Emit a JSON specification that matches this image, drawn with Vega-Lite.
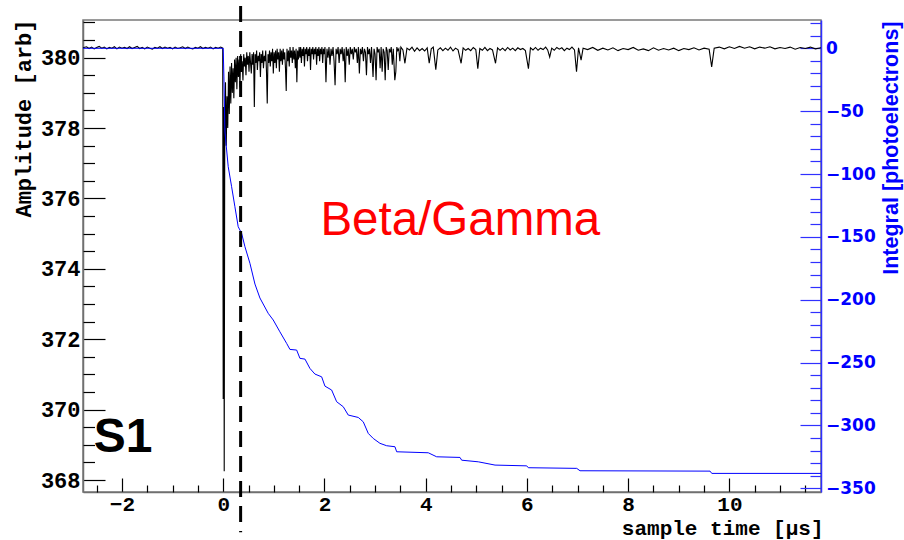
{
  "$schema": "https://vega.github.io/schema/vega-lite/v6.json",
  "width": 738,
  "height": 472,
  "autosize": "none",
  "padding": {"left": 83, "top": 20, "right": 83, "bottom": 48},
  "background": "white",
  "config": {
    "view": {"stroke": "#7a7a7a", "strokeWidth": 1.5},
    "axis": {"grid": false, "labelOverlap": false, "labelFlush": false, "labelBound": false}
  },
  "datasets": {
    "wave": [
      {"t": -2.77, "a": 380.28}, {"t": -2.7, "a": 380.31}, {"t": -2.65, "a": 380.26}, {"t": -2.6, "a": 380.3}, {"t": -2.55, "a": 380.25}, {"t": -2.5, "a": 380.29}, {"t": -2.45, "a": 380.32}, {"t": -2.4, "a": 380.27}, {"t": -2.35, "a": 380.3}, {"t": -2.3, "a": 380.25}, {"t": -2.25, "a": 380.29}, {"t": -2.2, "a": 380.27}, {"t": -2.15, "a": 380.31}, {"t": -2.1, "a": 380.25}, {"t": -2.05, "a": 380.3}, {"t": -2.0, "a": 380.27}, {"t": -1.95, "a": 380.29}, {"t": -1.9, "a": 380.26}, {"t": -1.85, "a": 380.31}, {"t": -1.8, "a": 380.26}, {"t": -1.75, "a": 380.29}, {"t": -1.7, "a": 380.32}, {"t": -1.65, "a": 380.26}, {"t": -1.6, "a": 380.29}, {"t": -1.55, "a": 380.25}, {"t": -1.5, "a": 380.3}, {"t": -1.45, "a": 380.27}, {"t": -1.4, "a": 380.24}, {"t": -1.35, "a": 380.29}, {"t": -1.3, "a": 380.27}, {"t": -1.25, "a": 380.31}, {"t": -1.2, "a": 380.26}, {"t": -1.15, "a": 380.3}, {"t": -1.1, "a": 380.27}, {"t": -1.05, "a": 380.29}, {"t": -1.0, "a": 380.25}, {"t": -0.95, "a": 380.3}, {"t": -0.9, "a": 380.26}, {"t": -0.85, "a": 380.28}, {"t": -0.8, "a": 380.31}, {"t": -0.75, "a": 380.26}, {"t": -0.7, "a": 380.3}, {"t": -0.65, "a": 380.27}, {"t": -0.6, "a": 380.25}, {"t": -0.55, "a": 380.29}, {"t": -0.5, "a": 380.27}, {"t": -0.45, "a": 380.31}, {"t": -0.4, "a": 380.26}, {"t": -0.35, "a": 380.29}, {"t": -0.3, "a": 380.27}, {"t": -0.25, "a": 380.3}, {"t": -0.2, "a": 380.25}, {"t": -0.15, "a": 380.29}, {"t": -0.1, "a": 380.27}, {"t": -0.05, "a": 380.3}, {"t": -0.01, "a": 380.27},
      {"t": 0.0, "a": 370.3}, {"t": 0.01, "a": 378.6}, {"t": 0.02, "a": 368.25}, {"t": 0.03, "a": 377.6}, {"t": 0.045, "a": 379.3}, {"t": 0.06, "a": 377.5}, {"t": 0.075, "a": 378.9}, {"t": 0.09, "a": 378.0}, {"t": 0.105, "a": 379.6}, {"t": 0.12, "a": 378.4}, {"t": 0.135, "a": 379.75}, {"t": 0.15, "a": 378.7}, {"t": 0.165, "a": 379.85}, {"t": 0.18, "a": 379.0}, {"t": 0.195, "a": 379.7}, {"t": 0.21, "a": 378.85}, {"t": 0.225, "a": 379.95}, {"t": 0.24, "a": 379.3}, {"t": 0.255, "a": 380.0}, {"t": 0.27, "a": 379.1}, {"t": 0.285, "a": 380.05}, {"t": 0.3, "a": 379.45}, {"t": 0.315, "a": 379.95}, {"t": 0.33, "a": 379.15}, {"t": 0.345, "a": 380.1}, {"t": 0.36, "a": 379.6}, {"t": 0.375, "a": 379.9}, {"t": 0.39, "a": 379.35}, {"t": 0.405, "a": 380.1}, {"t": 0.42, "a": 379.75}, {"t": 0.435, "a": 380.0}, {"t": 0.45, "a": 379.5}, {"t": 0.465, "a": 380.15}, {"t": 0.48, "a": 379.8}, {"t": 0.495, "a": 380.05}, {"t": 0.51, "a": 379.6}, {"t": 0.525, "a": 380.15}, {"t": 0.54, "a": 379.85}, {"t": 0.555, "a": 379.55}, {"t": 0.57, "a": 380.1}, {"t": 0.585, "a": 379.8}, {"t": 0.6, "a": 380.15}, {"t": 0.615, "a": 378.6}, {"t": 0.63, "a": 380.1}, {"t": 0.645, "a": 379.85}, {"t": 0.66, "a": 380.2}, {"t": 0.675, "a": 379.65}, {"t": 0.69, "a": 380.05}, {"t": 0.705, "a": 379.9}, {"t": 0.72, "a": 380.15}, {"t": 0.735, "a": 379.45}, {"t": 0.75, "a": 380.1}, {"t": 0.765, "a": 379.85}, {"t": 0.78, "a": 380.2}, {"t": 0.795, "a": 379.7}, {"t": 0.81, "a": 380.05}, {"t": 0.825, "a": 379.9}, {"t": 0.84, "a": 380.2}, {"t": 0.855, "a": 379.6}, {"t": 0.87, "a": 378.7}, {"t": 0.885, "a": 380.1}, {"t": 0.9, "a": 379.85}, {"t": 0.915, "a": 380.2}, {"t": 0.93, "a": 379.75}, {"t": 0.945, "a": 380.15}, {"t": 0.96, "a": 379.9}, {"t": 0.975, "a": 380.25}, {"t": 0.99, "a": 379.55}, {"t": 1.005, "a": 380.15}, {"t": 1.02, "a": 379.85}, {"t": 1.035, "a": 380.2}, {"t": 1.05, "a": 379.7}, {"t": 1.065, "a": 380.25}, {"t": 1.08, "a": 379.95}, {"t": 1.095, "a": 380.15}, {"t": 1.11, "a": 379.6}, {"t": 1.125, "a": 380.25}, {"t": 1.14, "a": 379.9}, {"t": 1.155, "a": 380.2}, {"t": 1.17, "a": 379.8}, {"t": 1.185, "a": 380.25}, {"t": 1.2, "a": 379.95}, {"t": 1.215, "a": 380.15}, {"t": 1.23, "a": 379.7}, {"t": 1.245, "a": 379.05}, {"t": 1.26, "a": 380.25}, {"t": 1.275, "a": 379.9}, {"t": 1.29, "a": 380.2}, {"t": 1.305, "a": 379.75}, {"t": 1.32, "a": 380.3}, {"t": 1.335, "a": 380.0}, {"t": 1.35, "a": 380.2}, {"t": 1.365, "a": 379.85}, {"t": 1.38, "a": 380.3}, {"t": 1.395, "a": 379.95}, {"t": 1.41, "a": 380.2}, {"t": 1.425, "a": 379.7}, {"t": 1.44, "a": 380.25}, {"t": 1.455, "a": 379.3}, {"t": 1.47, "a": 380.2}, {"t": 1.485, "a": 379.95}, {"t": 1.5, "a": 380.3},
      {"t": 1.515, "a": 380.0}, {"t": 1.53, "a": 380.3}, {"t": 1.545, "a": 379.85}, {"t": 1.56, "a": 380.25}, {"t": 1.575, "a": 380.05}, {"t": 1.59, "a": 380.3}, {"t": 1.605, "a": 379.75}, {"t": 1.62, "a": 380.25}, {"t": 1.635, "a": 380.1}, {"t": 1.65, "a": 380.3}, {"t": 1.665, "a": 379.9}, {"t": 1.68, "a": 380.25}, {"t": 1.695, "a": 380.05}, {"t": 1.71, "a": 380.3}, {"t": 1.725, "a": 379.65}, {"t": 1.74, "a": 380.25}, {"t": 1.755, "a": 380.1}, {"t": 1.77, "a": 380.3}, {"t": 1.785, "a": 379.95}, {"t": 1.8, "a": 380.25}, {"t": 1.815, "a": 380.1}, {"t": 1.83, "a": 380.3}, {"t": 1.845, "a": 379.8}, {"t": 1.86, "a": 380.25}, {"t": 1.875, "a": 380.05}, {"t": 1.89, "a": 380.3}, {"t": 1.905, "a": 379.9}, {"t": 1.92, "a": 380.25}, {"t": 1.935, "a": 380.1}, {"t": 1.95, "a": 380.3}, {"t": 1.965, "a": 379.85}, {"t": 1.98, "a": 380.25}, {"t": 1.995, "a": 380.1}, {"t": 2.01, "a": 380.3}, {"t": 2.03, "a": 379.3}, {"t": 2.05, "a": 380.25}, {"t": 2.07, "a": 380.0}, {"t": 2.09, "a": 380.3}, {"t": 2.11, "a": 379.8}, {"t": 2.13, "a": 380.25}, {"t": 2.15, "a": 380.05}, {"t": 2.17, "a": 380.3}, {"t": 2.19, "a": 379.9}, {"t": 2.21, "a": 379.22}, {"t": 2.23, "a": 380.25}, {"t": 2.25, "a": 380.1}, {"t": 2.27, "a": 380.3}, {"t": 2.29, "a": 379.85}, {"t": 2.31, "a": 380.25}, {"t": 2.33, "a": 380.1}, {"t": 2.35, "a": 380.3}, {"t": 2.37, "a": 379.9}, {"t": 2.39, "a": 380.25}, {"t": 2.41, "a": 379.3}, {"t": 2.43, "a": 380.3}, {"t": 2.45, "a": 380.05}, {"t": 2.47, "a": 380.25}, {"t": 2.49, "a": 379.8}, {"t": 2.51, "a": 380.3}, {"t": 2.53, "a": 380.1}, {"t": 2.55, "a": 380.25}, {"t": 2.57, "a": 379.95}, {"t": 2.59, "a": 380.3}, {"t": 2.61, "a": 380.15}, {"t": 2.63, "a": 380.25}, {"t": 2.65, "a": 379.85}, {"t": 2.67, "a": 380.3}, {"t": 2.69, "a": 379.55}, {"t": 2.71, "a": 380.25}, {"t": 2.73, "a": 380.1}, {"t": 2.75, "a": 380.3}, {"t": 2.77, "a": 379.9}, {"t": 2.79, "a": 380.25}, {"t": 2.81, "a": 380.15}, {"t": 2.83, "a": 379.5}, {"t": 2.85, "a": 380.3}, {"t": 2.87, "a": 380.1}, {"t": 2.89, "a": 380.25}, {"t": 2.91, "a": 379.85}, {"t": 2.93, "a": 380.3}, {"t": 2.96, "a": 379.45}, {"t": 2.98, "a": 380.25}, {"t": 3.0, "a": 380.1}, {"t": 3.02, "a": 379.36}, {"t": 3.04, "a": 380.3}, {"t": 3.06, "a": 380.15}, {"t": 3.08, "a": 380.25}, {"t": 3.1, "a": 379.7}, {"t": 3.12, "a": 380.3}, {"t": 3.14, "a": 379.6}, {"t": 3.16, "a": 380.25}, {"t": 3.18, "a": 380.15}, {"t": 3.2, "a": 379.36}, {"t": 3.22, "a": 380.3}, {"t": 3.24, "a": 380.2}, {"t": 3.26, "a": 379.65}, {"t": 3.28, "a": 380.25}, {"t": 3.3, "a": 380.15}, {"t": 3.32, "a": 380.3}, {"t": 3.34, "a": 379.8}, {"t": 3.36, "a": 380.25}, {"t": 3.39, "a": 379.36}, {"t": 3.41, "a": 379.6}, {"t": 3.43, "a": 380.3}, {"t": 3.45, "a": 380.2}, {"t": 3.47, "a": 380.25}, {"t": 3.49, "a": 379.9}, {"t": 3.51, "a": 380.3},
      {"t": 3.55, "a": 380.22}, {"t": 3.59, "a": 379.84}, {"t": 3.63, "a": 380.27}, {"t": 3.68, "a": 380.22}, {"t": 3.73, "a": 380.3}, {"t": 3.78, "a": 380.18}, {"t": 3.83, "a": 380.28}, {"t": 3.88, "a": 380.2}, {"t": 3.93, "a": 380.26}, {"t": 3.98, "a": 380.19}, {"t": 4.03, "a": 380.28}, {"t": 4.07, "a": 379.84}, {"t": 4.11, "a": 380.25}, {"t": 4.15, "a": 380.3}, {"t": 4.2, "a": 379.66}, {"t": 4.24, "a": 380.22}, {"t": 4.29, "a": 380.28}, {"t": 4.34, "a": 380.2}, {"t": 4.39, "a": 380.27}, {"t": 4.44, "a": 380.21}, {"t": 4.49, "a": 380.3}, {"t": 4.54, "a": 380.19}, {"t": 4.59, "a": 380.27}, {"t": 4.64, "a": 380.22}, {"t": 4.7, "a": 379.84}, {"t": 4.74, "a": 380.28}, {"t": 4.79, "a": 380.21}, {"t": 4.84, "a": 380.26}, {"t": 4.89, "a": 380.2}, {"t": 4.94, "a": 380.29}, {"t": 4.99, "a": 380.23}, {"t": 5.03, "a": 379.69}, {"t": 5.07, "a": 380.26}, {"t": 5.12, "a": 380.21}, {"t": 5.17, "a": 380.29}, {"t": 5.22, "a": 380.2}, {"t": 5.27, "a": 380.26}, {"t": 5.32, "a": 380.22}, {"t": 5.38, "a": 379.84}, {"t": 5.42, "a": 380.28}, {"t": 5.47, "a": 380.21}, {"t": 5.52, "a": 380.27}, {"t": 5.57, "a": 380.2}, {"t": 5.62, "a": 380.29}, {"t": 5.67, "a": 380.22}, {"t": 5.72, "a": 380.27}, {"t": 5.77, "a": 380.2}, {"t": 5.82, "a": 380.28}, {"t": 5.87, "a": 380.23}, {"t": 5.92, "a": 380.26}, {"t": 5.97, "a": 380.2}, {"t": 6.03, "a": 379.69}, {"t": 6.07, "a": 380.28}, {"t": 6.12, "a": 380.22}, {"t": 6.17, "a": 380.29}, {"t": 6.22, "a": 380.21}, {"t": 6.27, "a": 380.27}, {"t": 6.32, "a": 380.23}, {"t": 6.37, "a": 380.3}, {"t": 6.41, "a": 380.22}, {"t": 6.45, "a": 380.02}, {"t": 6.49, "a": 380.27}, {"t": 6.54, "a": 380.21}, {"t": 6.59, "a": 380.29}, {"t": 6.64, "a": 380.24}, {"t": 6.69, "a": 380.28}, {"t": 6.74, "a": 380.2}, {"t": 6.79, "a": 380.27}, {"t": 6.84, "a": 380.23}, {"t": 6.89, "a": 380.3}, {"t": 6.94, "a": 380.22}, {"t": 6.98, "a": 379.6}, {"t": 7.02, "a": 380.28}, {"t": 7.07, "a": 379.93}, {"t": 7.11, "a": 380.27},
      {"t": 7.2, "a": 380.23}, {"t": 7.3, "a": 380.29}, {"t": 7.4, "a": 380.21}, {"t": 7.5, "a": 380.27}, {"t": 7.6, "a": 380.22}, {"t": 7.7, "a": 380.28}, {"t": 7.8, "a": 380.2}, {"t": 7.9, "a": 380.26}, {"t": 8.0, "a": 380.23}, {"t": 8.1, "a": 380.29}, {"t": 8.2, "a": 380.21}, {"t": 8.3, "a": 380.25}, {"t": 8.4, "a": 380.2}, {"t": 8.5, "a": 380.28}, {"t": 8.6, "a": 380.21}, {"t": 8.7, "a": 380.26}, {"t": 8.8, "a": 380.22}, {"t": 8.9, "a": 380.27}, {"t": 9.0, "a": 380.2}, {"t": 9.1, "a": 380.26}, {"t": 9.2, "a": 380.23}, {"t": 9.3, "a": 380.28}, {"t": 9.4, "a": 380.22}, {"t": 9.5, "a": 380.27}, {"t": 9.6, "a": 380.24}, {"t": 9.65, "a": 379.74}, {"t": 9.7, "a": 380.27}, {"t": 9.8, "a": 380.3}, {"t": 9.9, "a": 380.25}, {"t": 10.0, "a": 380.31}, {"t": 10.1, "a": 380.26}, {"t": 10.2, "a": 380.32}, {"t": 10.3, "a": 380.27}, {"t": 10.4, "a": 380.31}, {"t": 10.5, "a": 380.25}, {"t": 10.6, "a": 380.3}, {"t": 10.7, "a": 380.27}, {"t": 10.8, "a": 380.31}, {"t": 10.9, "a": 380.25}, {"t": 11.0, "a": 380.29}, {"t": 11.1, "a": 380.26}, {"t": 11.2, "a": 380.3}, {"t": 11.3, "a": 380.24}, {"t": 11.4, "a": 380.29}, {"t": 11.5, "a": 380.26}, {"t": 11.6, "a": 380.3}, {"t": 11.7, "a": 380.25}, {"t": 11.81, "a": 380.28}
    ],
    "integral": [
      {"t": -2.77, "q": 0}, {"t": 0.0, "q": 0}, {"t": 0.014, "q": -22.8}, {"t": 0.034, "q": -66.6}, {"t": 0.099, "q": -94.2}, {"t": 0.166, "q": -110.1}, {"t": 0.231, "q": -126.0}, {"t": 0.296, "q": -141.9}, {"t": 0.364, "q": -147.2}, {"t": 0.429, "q": -157.8}, {"t": 0.528, "q": -171.0}, {"t": 0.627, "q": -187.5}, {"t": 0.725, "q": -198.6}, {"t": 0.889, "q": -210.8}, {"t": 0.988, "q": -216.1}, {"t": 1.12, "q": -225.5}, {"t": 1.253, "q": -234.7}, {"t": 1.318, "q": -239.5}, {"t": 1.451, "q": -240.0}, {"t": 1.516, "q": -246.6}, {"t": 1.615, "q": -247.2}, {"t": 1.713, "q": -254.6}, {"t": 1.812, "q": -259.1}, {"t": 1.945, "q": -261.3}, {"t": 2.01, "q": -268.7}, {"t": 2.142, "q": -271.8}, {"t": 2.241, "q": -281.1}, {"t": 2.372, "q": -285.1}, {"t": 2.47, "q": -291.7}, {"t": 2.668, "q": -293.6}, {"t": 2.767, "q": -297.1}, {"t": 2.866, "q": -306.3}, {"t": 2.964, "q": -310.3}, {"t": 3.097, "q": -314.2}, {"t": 3.229, "q": -316.1}, {"t": 3.393, "q": -316.9}, {"t": 3.427, "q": -320.9}, {"t": 4.051, "q": -321.7}, {"t": 4.217, "q": -324.9}, {"t": 4.678, "q": -325.4}, {"t": 4.711, "q": -327.6}, {"t": 5.04, "q": -328.9}, {"t": 5.37, "q": -331.5}, {"t": 5.996, "q": -332.1}, {"t": 6.028, "q": -333.6}, {"t": 6.984, "q": -334.1}, {"t": 7.049, "q": -336.0}, {"t": 9.618, "q": -336.3}, {"t": 9.652, "q": -338.1}, {"t": 11.81, "q": -338.1}
    ]
  },
  "resolve": {"scale": {"x": "independent", "y": "independent"}, "axis": {"x": "independent", "y": "independent"}},
  "layer": [
    {
      "data": {"name": "wave"},
      "mark": {"type": "line", "color": "black", "strokeWidth": 1.1},
      "encoding": {
        "x": {"field": "t", "type": "quantitative",
          "scale": {"domain": [-2.77, 11.81], "nice": false, "zero": false},
          "axis": {"orient": "bottom", "values": [-2, 0, 2, 4, 6, 8, 10], "tickSize": -14, "tickColor": "black", "tickWidth": 1.2,
            "domainColor": "#707070", "domainWidth": 1.5,
            "labelFont": "Liberation Mono", "labelFontWeight": "bold", "labelFontSize": 21, "labelColor": "black", "labelBaseline": "alphabetic", "labelPadding": 32.5,
            "title": "sample time [μs]", "titleFont": "Liberation Mono", "titleFontWeight": "bold", "titleFontSize": 21, "titleColor": "black",
            "titleAnchor": "end", "titleAlign": "right", "titleBaseline": "alphabetic", "titleX": 740, "titleY": 42}},
        "y": {"field": "a", "type": "quantitative",
          "scale": {"domain": [367.66, 381.07], "nice": false, "zero": false},
          "axis": {"orient": "left", "values": [368, 370, 372, 374, 376, 378, 380], "tickSize": -22, "tickColor": "black", "tickWidth": 1.2,
            "domainColor": "#707070", "domainWidth": 1.5,
            "labelFont": "Liberation Mono", "labelFontWeight": "bold", "labelFontSize": 22, "labelColor": "black", "labelPadding": 25,
            "title": "Amplitude [arb]", "titleFont": "Liberation Mono", "titleFontWeight": "bold", "titleFontSize": 22, "titleColor": "black",
            "titleAngle": -90, "titleAlign": "right", "titleBaseline": "alphabetic", "titleX": -53, "titleY": -1}}
      }
    },
    {
      "data": {"values": [{"t": 0, "a": 375}]},
      "mark": {"type": "point", "opacity": 0},
      "encoding": {
        "x": {"field": "t", "type": "quantitative",
          "scale": {"domain": [-2.77, 11.81], "nice": false, "zero": false},
          "axis": {"orient": "bottom", "values": [-2.5, -1.5, -1, -0.5, 0.5, 1, 1.5, 2.5, 3, 3.5, 4.5, 5, 5.5, 6.5, 7, 7.5, 8.5, 9, 9.5, 10.5, 11, 11.5],
            "tickSize": -7, "tickColor": "black", "tickWidth": 1.2, "labels": false, "domain": false, "title": null}},
        "y": {"field": "a", "type": "quantitative",
          "scale": {"domain": [367.66, 381.07], "nice": false, "zero": false},
          "axis": {"orient": "left", "values": [368.5, 369, 369.5, 370.5, 371, 371.5, 372.5, 373, 373.5, 374.5, 375, 375.5, 376.5, 377, 377.5, 378.5, 379, 379.5, 380.5, 381],
            "tickSize": -11.5, "tickColor": "black", "tickWidth": 1.2, "labels": false, "domain": false, "title": null}}
      }
    },
    {
      "data": {"name": "integral"},
      "mark": {"type": "line", "color": "#0000ff", "strokeWidth": 1},
      "encoding": {
        "x": {"field": "t", "type": "quantitative", "scale": {"domain": [-2.77, 11.81], "nice": false, "zero": false}, "axis": null},
        "y": {"field": "q", "type": "quantitative",
          "scale": {"domain": [-352.9, 22.5], "nice": false, "zero": false},
          "axis": {"orient": "right", "values": [-350, -300, -250, -200, -150, -100, -50, 0], "tickSize": -21, "tickColor": "#3030ff", "tickWidth": 1.2,
            "domainColor": "#3030ff", "domainWidth": 1.5,
            "labelFont": "DejaVu Sans", "labelFontWeight": "bold", "labelFontSize": 17, "labelColor": "#0000ff", "labelPadding": 25.5,
            "title": "Integral [photoelectrons]", "titleFont": "Liberation Sans", "titleFontWeight": "bold", "titleFontSize": 21.5, "titleColor": "#0000ff",
            "titleAngle": -90, "titleAlign": "right", "titleBaseline": "alphabetic", "titleX": 76, "titleY": 1}}
      }
    },
    {
      "data": {"values": [{"t": 0, "q": -100}]},
      "mark": {"type": "point", "opacity": 0},
      "encoding": {
        "x": {"field": "t", "type": "quantitative", "scale": {"domain": [-2.77, 11.81], "nice": false, "zero": false}, "axis": null},
        "y": {"field": "q", "type": "quantitative",
          "scale": {"domain": [-352.9, 22.5], "nice": false, "zero": false},
          "axis": {"orient": "right", "values": [-340, -330, -320, -310, -290, -280, -270, -260, -240, -230, -220, -210, -190, -180, -170, -160, -140, -130, -120, -110, -90, -80, -70, -60, -40, -30, -20, -10, 10, 20],
            "tickSize": -11, "tickColor": "#3030ff", "tickWidth": 1.2, "labels": false, "domain": false, "title": null}}
      }
    },
    {
      "data": {"values": [{"cut": 0.344}]},
      "mark": {"type": "rule", "color": "black", "strokeWidth": 3, "strokeDash": [16, 9]},
      "encoding": {
        "x": {"field": "cut", "type": "quantitative", "scale": {"domain": [-2.77, 11.81], "nice": false, "zero": false}, "axis": null},
        "y": {"datum": 381.47, "scale": {"domain": [367.66, 381.07], "nice": false, "zero": false}, "axis": null},
        "y2": {"datum": 366.52}
      }
    },
    {
      "data": {"values": [{"label": "Beta/Gamma"}]},
      "mark": {"type": "text", "font": "Liberation Sans", "fontSize": 47.5, "color": "#ff0000", "align": "left", "baseline": "alphabetic"},
      "encoding": {
        "text": {"field": "label"},
        "x": {"datum": 1.92, "scale": {"domain": [-2.77, 11.81], "nice": false, "zero": false}, "axis": null},
        "y": {"datum": 374.96, "scale": {"domain": [367.66, 381.07], "nice": false, "zero": false}, "axis": null}
      }
    },
    {
      "data": {"values": [{"label": "S1"}]},
      "mark": {"type": "text", "font": "Liberation Sans", "fontWeight": "bold", "fontSize": 48, "color": "black", "align": "left", "baseline": "alphabetic"},
      "encoding": {
        "text": {"field": "label"},
        "x": {"datum": -2.56, "scale": {"domain": [-2.77, 11.81], "nice": false, "zero": false}, "axis": null},
        "y": {"datum": 368.8, "scale": {"domain": [367.66, 381.07], "nice": false, "zero": false}, "axis": null}
      }
    }
  ]
}
